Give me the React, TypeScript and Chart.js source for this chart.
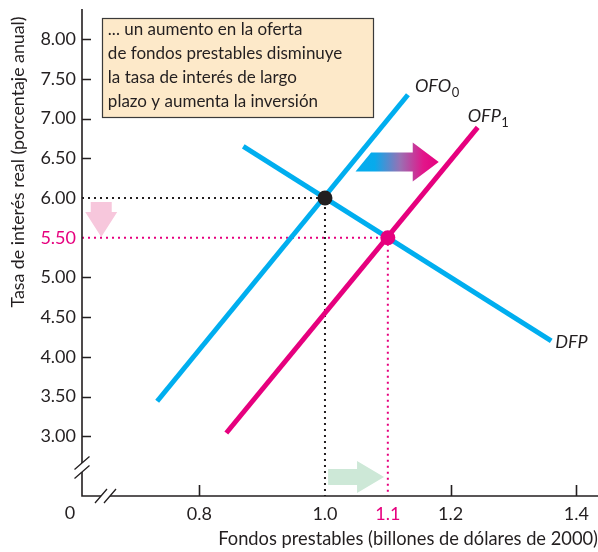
import React, { useEffect, useRef } from "react";
import { Chart, registerables } from "chart.js";
Chart.register(...registerables);

const FONT = "Lato, 'Open Sans', sans-serif";
const INK = "#231f20";
const BLUE = "#00aeef";
const PINK = "#e6007e";

// axis ranges (data units)
const xMin = 0.6134;
const xMax = 1.4344;
const yMin = 2.247;
const yMax = 8.38;

// tick labels
const yTicks = [3.0, 3.5, 4.0, 4.5, 5.0, 5.5, 6.0, 6.5, 7.0, 7.5, 8.0];
const yTickLabels = ["3.00", "3.50", "4.00", "4.50", "5.00", "5.50", "6.00", "6.50", "7.00", "7.50", "8.00"];
const xTicks = [0.8, 1.0, 1.1, 1.2, 1.4];
const xTickLabels = ["0.8", "1.0", "1.1", "1.2", "1.4"];

// curves
const ofo0 = [
  { x: 0.733, y: 3.44 },
  { x: 1.132, y: 7.3 },
];
const ofp1 = [
  { x: 0.843, y: 3.04 },
  { x: 1.243, y: 6.89 },
];
const dfp = [
  { x: 0.87, y: 6.65 },
  { x: 1.36, y: 4.2 },
];
// equilibria
const eq0 = { x: 1.0, y: 6.0 };
const eq1 = { x: 1.1, y: 5.5 };

// annotations (data units)
const shiftArrow = { from: 1.061, to: 1.181, y: 6.453 };
const rateArrow = { x: 0.644, from: 5.95, to: 5.51 };
const qtyArrow = { from: 1.005, to: 1.094, y: 2.486 };
const noteBox = { x0: 0.645, x1: 1.0764, y0: 8.267, y1: 7.02 };
const noteLines = [
  "... un aumento en la oferta",
  "de fondos prestables disminuye",
  "la tasa de interés de largo",
  "plazo y aumenta la inversión",
];
const xTitle = "Fondos prestables (billones de dólares de 2000)";
const yTitle = "Tasa de interés real (porcentaje anual)";

function guide(p: { x: number; y: number }) {
  return [
    { x: xMin, y: p.y },
    { x: p.x, y: p.y },
    { x: p.x, y: yMin },
  ];
}

const decor = {
  id: "decor",
  beforeDatasetsDraw(chart: any) {
    const ctx = chart.ctx as CanvasRenderingContext2D;
    const xs = chart.scales.x;
    const ys = chart.scales.y;
    const X = (v: number) => xs.getPixelForValue(v);
    const Y = (v: number) => ys.getPixelForValue(v);
    ctx.save();
    // note box
    const bx0 = X(noteBox.x0), bx1 = X(noteBox.x1), by0 = Y(noteBox.y0), by1 = Y(noteBox.y1);
    ctx.fillStyle = "#fde9c9";
    ctx.fillRect(bx0, by0, bx1 - bx0, by1 - by0);
    ctx.strokeStyle = "#3a3a3a";
    ctx.lineWidth = 1.2;
    ctx.strokeRect(Math.round(bx0) + 0.5, Math.round(by0) + 0.5, Math.round(bx1 - bx0), Math.round(by1 - by0));
    ctx.fillStyle = INK;
    ctx.font = `17px ${FONT}`;
    ctx.textAlign = "left";
    ctx.textBaseline = "middle";
    noteLines.forEach((t, i) => ctx.fillText(t, bx0 + 6, by0 + 12 + i * 23.7));

    // gradient shift arrow (slanted tail parallel to the supply curve)
    const slope = (X(ofo0[1].x) - X(ofo0[0].x)) / (Y(ofo0[0].y) - Y(ofo0[1].y));
    const cy = Y(shiftArrow.y);
    const lx = X(shiftArrow.from);
    const tx = X(shiftArrow.to);
    const hx = tx - 26;
    const sh = 9.5, hh = 19.5;
    const g = ctx.createLinearGradient(lx - 10, 0, tx, 0);
    g.addColorStop(0, BLUE);
    g.addColorStop(0.25, "#08aaec");
    g.addColorStop(0.55, "#9a70b3");
    g.addColorStop(0.82, "#e2168a");
    g.addColorStop(1, PINK);
    ctx.fillStyle = g;
    ctx.beginPath();
    ctx.moveTo(lx + sh * slope, cy - sh);
    ctx.lineTo(hx, cy - sh);
    ctx.lineTo(hx, cy - hh);
    ctx.lineTo(tx, cy);
    ctx.lineTo(hx, cy + hh);
    ctx.lineTo(hx, cy + sh);
    ctx.lineTo(lx - sh * slope, cy + sh);
    ctx.closePath();
    ctx.fill();

    // pink down arrow
    const ax = X(rateArrow.x);
    const ay0 = Y(rateArrow.from);
    const ay1 = Y(rateArrow.to);
    const ahy = ay1 - 25;
    ctx.fillStyle = "#f7c7dc";
    ctx.beginPath();
    ctx.moveTo(ax - 10.5, ay0);
    ctx.lineTo(ax + 10.5, ay0);
    ctx.lineTo(ax + 10.5, ahy);
    ctx.lineTo(ax + 16, ahy);
    ctx.lineTo(ax, ay1);
    ctx.lineTo(ax - 16, ahy);
    ctx.lineTo(ax - 10.5, ahy);
    ctx.closePath();
    ctx.fill();

    // green quantity arrow
    const gy = Y(qtyArrow.y);
    const gx0 = X(qtyArrow.from);
    const gx1 = X(qtyArrow.to);
    const ghx = gx1 - 27;
    ctx.fillStyle = "#cde8d7";
    ctx.beginPath();
    ctx.moveTo(gx0, gy - 8);
    ctx.lineTo(ghx, gy - 8);
    ctx.lineTo(ghx, gy - 16);
    ctx.lineTo(gx1, gy);
    ctx.lineTo(ghx, gy + 16);
    ctx.lineTo(ghx, gy + 8);
    ctx.lineTo(gx0, gy + 8);
    ctx.closePath();
    ctx.fill();
    ctx.restore();
  },
  afterDatasetsDraw(chart: any) {
    const ctx = chart.ctx as CanvasRenderingContext2D;
    const xs = chart.scales.x;
    const ys = chart.scales.y;
    const X = (v: number) => xs.getPixelForValue(v);
    const Y = (v: number) => ys.getPixelForValue(v);
    const { left, right, top, bottom } = chart.chartArea;
    ctx.save();
    ctx.strokeStyle = INK;
    ctx.lineWidth = 1.6;
    const ax = left;
    const ay = bottom;
    // y axis with break
    const yb1 = ay - 33, yb2 = ay - 24;
    ctx.beginPath();
    ctx.moveTo(ax, top);
    ctx.lineTo(ax, yb1);
    ctx.moveTo(ax, yb2);
    ctx.lineTo(ax, ay);
    // x axis with break
    const xb1 = ax + 19, xb2 = ax + 28;
    ctx.lineTo(xb1, ay);
    ctx.moveTo(xb2, ay);
    ctx.lineTo(right, ay);
    ctx.stroke();
    ctx.lineWidth = 1.3;
    ctx.beginPath();
    [yb1, yb2].forEach((b) => {
      ctx.moveTo(ax - 7.5, b + 6.5);
      ctx.lineTo(ax + 7.5, b - 6.5);
    });
    [xb1, xb2].forEach((b) => {
      ctx.moveTo(b - 6, ay + 7);
      ctx.lineTo(b + 6, ay - 7);
    });
    ctx.stroke();

    // ticks (skip where guide lines sit)
    ctx.lineWidth = 1.6;
    ctx.beginPath();
    yTicks.forEach((v) => {
      if (v === eq0.y || v === eq1.y) return;
      const p = Math.round(Y(v)) + 0.5;
      ctx.moveTo(ax, p);
      ctx.lineTo(ax + 9, p);
    });
    xTicks.forEach((v) => {
      if (v === eq0.x || v === eq1.x) return;
      const p = Math.round(X(v)) + 0.5;
      ctx.moveTo(p, ay);
      ctx.lineTo(p, ay - 11);
    });
    ctx.stroke();

    // tick labels
    ctx.font = `18px ${FONT}`;
    ctx.textBaseline = "middle";
    ctx.textAlign = "right";
    yTicks.forEach((v, i) => {
      ctx.fillStyle = v === eq1.y ? PINK : INK;
      ctx.fillText(yTickLabels[i], ax - 6, Y(v));
    });
    ctx.textAlign = "center";
    xTicks.forEach((v, i) => {
      ctx.fillStyle = v === eq1.x ? PINK : INK;
      ctx.fillText(xTickLabels[i], X(v), ay + 18);
    });
    ctx.fillStyle = INK;
    ctx.fillText("0", ax - 12, ay + 17);

    // axis titles
    ctx.font = `18.3px ${FONT}`;
    ctx.textAlign = "right";
    ctx.fillText(xTitle, 598, ay + 43);
    ctx.font = `17.8px ${FONT}`;
    ctx.save();
    ctx.translate(18, 162);
    ctx.rotate(-Math.PI / 2);
    ctx.textAlign = "center";
    ctx.fillText(yTitle, 0, 0);
    ctx.restore();

    // curve labels
    const sub = (main: string, s: string, x: number, y: number) => {
      ctx.textAlign = "left";
      ctx.textBaseline = "alphabetic";
      ctx.font = `italic 18px ${FONT}`;
      ctx.fillText(main, x, y);
      const w = ctx.measureText(main).width;
      if (s) {
        ctx.font = `13px ${FONT}`;
        ctx.fillText(s, x + w + 0.5, y + 5);
      }
    };
    ctx.fillStyle = INK;
    sub("OFO", "0", X(ofo0[1].x) + 7, Y(ofo0[1].y) - 3);
    sub("OFP", "1", X(ofp1[1].x) - 10, Y(ofp1[1].y) - 5);
    sub("DFP", "", X(dfp[1].x) + 4, Y(dfp[1].y) + 7);
    ctx.restore();
  },
};

export default function App() {
  const ref = useRef<HTMLCanvasElement>(null);
  useEffect(() => {
    const line = (data: any[], color: string, order: number) => ({
      data,
      showLine: true,
      borderColor: color,
      borderWidth: 5,
      pointRadius: 0,
      borderCapStyle: "butt",
      order,
    });
    const dotted = (data: any[], color: string) => ({
      data,
      showLine: true,
      borderColor: color,
      borderWidth: 2,
      borderDash: [2, 4],
      pointRadius: 0,
      order: 3,
    });
    const chart = new Chart(ref.current!, {
      type: "scatter",
      data: {
        datasets: [
          dotted(guide(eq0), INK),
          dotted(guide(eq1), PINK),
          line(dfp, BLUE, 2),
          line(ofo0, BLUE, 2),
          line(ofp1, PINK, 1),
          {
            data: [eq0],
            pointRadius: 7.5,
            pointBackgroundColor: INK,
            pointBorderWidth: 0,
            order: 0,
          },
          {
            data: [eq1],
            pointRadius: 7.5,
            pointBackgroundColor: PINK,
            pointBorderWidth: 0,
            order: 0,
          },
        ] as any,
      },
      options: {
        responsive: false,
        animation: false,
        devicePixelRatio: 1,
        layout: { autoPadding: false, padding: { left: 82, right: 0, top: 9, bottom: 56 } },
        plugins: { legend: { display: false }, tooltip: { enabled: false } },
        scales: {
          x: { type: "linear", min: xMin, max: xMax, display: false },
          y: { type: "linear", min: yMin, max: yMax, display: false },
        },
      },
      plugins: [decor],
    } as any);
    return () => chart.destroy();
  }, []);
  return (
    <div style={{ position: "fixed", left: 0, top: 0, width: 598, height: 552, background: "#fff" }}>
      <canvas ref={ref} width={598} height={552} style={{ display: "block", width: 598, height: 552 }} />
    </div>
  );
}
